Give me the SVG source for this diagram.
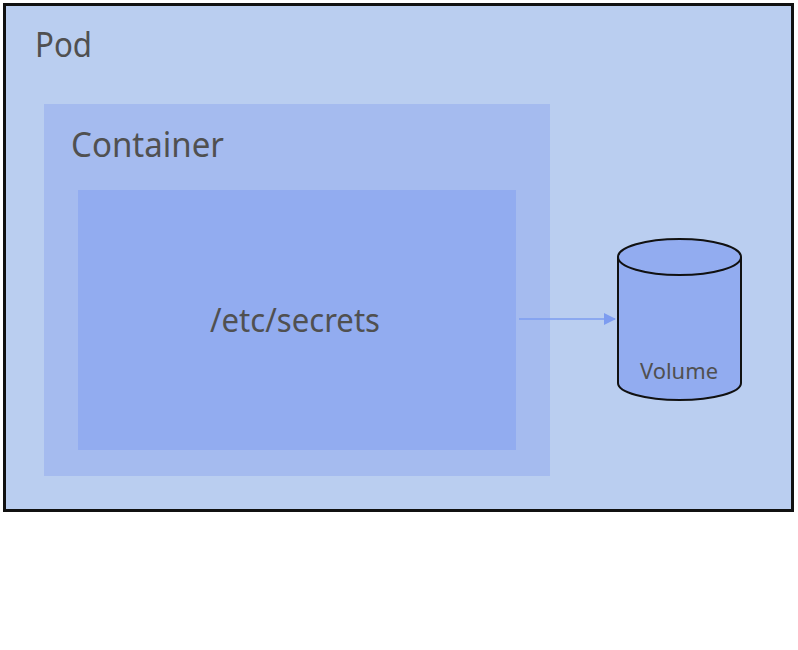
<svg xmlns="http://www.w3.org/2000/svg" width="798" height="650" viewBox="0 0 798 650">
<style>
.lbl{font-family:"Noto Sans","Open Sans","Liberation Sans",sans-serif;fill:#505050}
</style>
<defs>
<marker id="ah" markerWidth="12" markerHeight="12" refX="11" refY="6" orient="auto" markerUnits="userSpaceOnUse">
<path d="M0,0 L12,6 L0,12 Z" fill="#7D9CF0"/>
</marker>
</defs>
<rect x="0" y="0" width="798" height="650" fill="#ffffff"/>
<g id="pod">
<rect x="4.5" y="4.5" width="788" height="506" fill="#BACEF0" stroke="#111" stroke-width="3"/>
<text class="lbl" x="35" y="57" font-size="34" textLength="57" lengthAdjust="spacingAndGlyphs">Pod</text>
</g>
<g id="container">
<rect x="44" y="104" width="506" height="372" fill="#A5BBEF"/>
<text class="lbl" x="71" y="157" font-size="34" textLength="153" lengthAdjust="spacingAndGlyphs">Container</text>
</g>
<g id="secrets">
<rect x="78" y="190" width="438" height="260" fill="#92ACF0"/>
<text class="lbl" x="210" y="332" font-size="33" textLength="170" lengthAdjust="spacingAndGlyphs">/etc/secrets</text>
</g>
<g id="volume">
<path d="M618,257 L618,383 A61.5,17 0 0 0 741,383 L741,257" fill="#92ACF0" stroke="#111" stroke-width="2"/>
<ellipse cx="679.5" cy="257" rx="61.5" ry="18" fill="#92ACF0" stroke="#111" stroke-width="2"/>
<text class="lbl" x="640" y="379" font-size="22" textLength="78" lengthAdjust="spacingAndGlyphs">Volume</text>
</g>
<g id="connectors">
<line x1="519" y1="319" x2="615" y2="319" stroke="#7D9CF0" stroke-width="1.5" marker-end="url(#ah)"/>
</g>
</svg>
